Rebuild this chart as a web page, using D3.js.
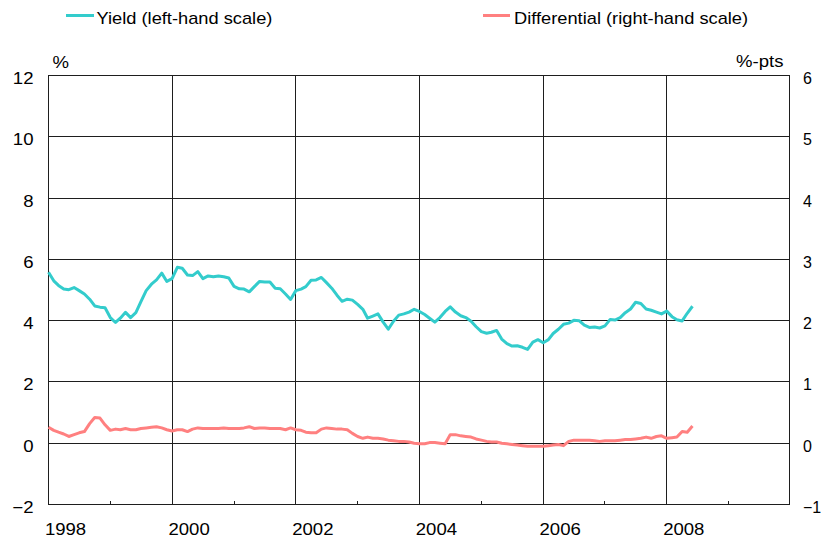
<!DOCTYPE html>
<html>
<head>
<meta charset="utf-8">
<script src="https://cdn.jsdelivr.net/npm/d3@7"></script>
<style>
  html, body { margin: 0; padding: 0; background: #fff; }
  svg { display: block; }
  text { font-family: "Liberation Sans", Arial, sans-serif; font-size: 16px; fill: #000; }
</style>
</head>
<body>
<svg id="chart" width="821" height="550"></svg>
<script>
// ---------------- data ----------------
const startYear = 1998;            // monthly observations from January 1998
const yearLabels = [1998, 2000, 2002, 2004, 2006, 2008];
const minorYears = [1999, 2001, 2003, 2005, 2007, 2009];
const leftTicks = [12, 10, 8, 6, 4, 2, 0, -2];
const rightTicks = [6, 5, 4, 3, 2, 1, 0, -1];
const seriesNames = ["Yield (left-hand scale)", "Differential (right-hand scale)"];
const leftUnit = "%";
const rightUnit = "%-pts";

const yieldValues = [
  5.58,5.30,5.15,5.03,5.01,5.08,4.98,4.87,4.70,4.48,
  4.44,4.42,4.10,3.94,4.08,4.27,4.10,4.26,4.62,4.98,
  5.19,5.33,5.55,5.28,5.37,5.74,5.71,5.49,5.47,5.60,
  5.37,5.46,5.43,5.46,5.43,5.39,5.12,5.04,5.03,4.94,
  5.11,5.28,5.26,5.26,5.06,5.04,4.87,4.69,4.98,5.03,
  5.11,5.32,5.33,5.41,5.24,5.06,4.83,4.63,4.70,4.67,
  4.53,4.37,4.08,4.15,4.22,3.95,3.72,3.98,4.18,4.22,
  4.28,4.37,4.30,4.20,4.08,3.95,4.10,4.30,4.45,4.28,
  4.16,4.10,3.98,3.80,3.64,3.59,3.62,3.68,3.40,3.25,
  3.17,3.18,3.13,3.06,3.30,3.38,3.28,3.38,3.58,3.72,
  3.88,3.92,4.01,4.00,3.85,3.78,3.79,3.76,3.83,4.04,
  4.02,4.10,4.26,4.38,4.60,4.56,4.38,4.34,4.28,4.22,
  4.31,4.13,4.03,3.99,4.24,4.47
];

const differentialValues = [
  0.26,0.21,0.18,0.15,0.11,0.14,0.17,0.19,0.32,0.42,
  0.41,0.30,0.21,0.23,0.22,0.24,0.22,0.22,0.24,0.25,
  0.26,0.27,0.25,0.22,0.20,0.22,0.22,0.19,0.23,0.25,
  0.24,0.24,0.24,0.24,0.25,0.24,0.24,0.24,0.25,0.27,
  0.24,0.25,0.25,0.24,0.24,0.24,0.22,0.25,0.22,0.21,
  0.18,0.17,0.17,0.23,0.25,0.24,0.23,0.23,0.22,0.16,
  0.11,0.08,0.10,0.08,0.08,0.07,0.05,0.04,0.03,0.03,
  0.02,0.00,-0.01,-0.01,0.01,0.01,0.00,-0.01,0.14,0.14,
  0.12,0.11,0.10,0.07,0.05,0.03,0.02,0.02,0.00,-0.01,
  -0.02,-0.03,-0.04,-0.05,-0.05,-0.05,-0.05,-0.04,-0.03,-0.02,
  -0.04,0.03,0.05,0.05,0.05,0.05,0.04,0.03,0.04,0.04,
  0.04,0.05,0.06,0.06,0.07,0.08,0.10,0.08,0.11,0.12,
  0.08,0.09,0.10,0.19,0.18,0.28
];

// ---------------- layout ----------------
const colors = ["#33CCCC", "#FF8080"];
const L = 48.5, R = 789.5, T = 75.5, B = 504.5;
const SX = 1.16; // horizontal text stretch of the reference

const svg = d3.select("#chart");
const x = d3.scaleTime()
  .domain([new Date(startYear, 0, 1), new Date(2010, 0, 1)])
  .range([L, 790.5]);
const yL = d3.scaleLinear().domain([-2, 12]).range([B, T]);
const yR = d3.scaleLinear().domain([-1, 6]).range([B, T]);

const dates = yieldValues.map((_, i) => new Date(startYear, i, 1));

// grid
const grid = svg.append("g").attr("shape-rendering", "crispEdges")
  .attr("stroke", "#1e1e1e").attr("stroke-width", 1);
grid.selectAll("line.h").data(leftTicks).join("line").attr("class", "h")
  .attr("x1", L).attr("x2", R)
  .attr("y1", d => Math.round(yL(d) - 0.5) + 0.5)
  .attr("y2", d => Math.round(yL(d) - 0.5) + 0.5);
grid.selectAll("line.v").data(yearLabels.slice(1)).join("line").attr("class", "v")
  .attr("x1", d => Math.round(x(new Date(d, 0, 1)) - 0.5) + 0.5)
  .attr("x2", d => Math.round(x(new Date(d, 0, 1)) - 0.5) + 0.5)
  .attr("y1", T).attr("y2", B);
grid.append("rect").attr("x", L).attr("y", T).attr("width", R - L).attr("height", B - T)
  .attr("fill", "none");
grid.selectAll("line.m").data(minorYears).join("line").attr("class", "m")
  .attr("x1", d => Math.round(x(new Date(d, 0, 1)) - 0.5) + 0.5)
  .attr("x2", d => Math.round(x(new Date(d, 0, 1)) - 0.5) + 0.5)
  .attr("y1", B).attr("y2", B - 4);

// axes (labels only; grid draws the lines)
function stretch(sel, dx, dy, anchor, sx) {
  sel.attr("x", 0).attr("y", 0).attr("dy", null)
    .attr("text-anchor", anchor)
    .attr("transform", `translate(${dx},${dy}) scale(${sx},1)`);
}
const axL = svg.append("g").attr("transform", `translate(${L},0)`)
  .call(d3.axisLeft(yL).tickValues(leftTicks).tickSize(0).tickFormat(d3.format("d")));
axL.select(".domain").remove();
axL.selectAll("text").call(stretch, -15, 8, "end", SX);

const axR = svg.append("g").attr("transform", `translate(${R},0)`)
  .call(d3.axisRight(yR).tickValues(rightTicks).tickSize(0).tickFormat(d3.format("d")));
axR.select(".domain").remove();
axR.selectAll("text").call(stretch, 13.5, 8, "start", 1.0);

const axB = svg.append("g").attr("transform", `translate(0,${B})`)
  .call(d3.axisBottom(x).tickValues(yearLabels.map(y => new Date(y, 0, 1)))
    .tickSize(0).tickFormat(d3.timeFormat("%Y")));
axB.select(".domain").remove();
axB.selectAll("text").call(stretch, 16.5, 30, "middle", SX);
svg.selectAll(".tick text").attr("font-size", 16).attr("font-family", '"Liberation Sans", Arial, sans-serif').attr("fill", "#000");

// unit labels
svg.append("text").attr("transform", `translate(52.5,68) scale(${SX},1)`).text(leftUnit);
svg.append("text").attr("text-anchor", "end")
  .attr("transform", `translate(783.5,66.5) scale(${SX},1)`).text(rightUnit);

// lines
const lineL = d3.line().x((d, i) => x(dates[i])).y(d => yL(d));
const lineR = d3.line().x((d, i) => x(dates[i])).y(d => yR(d));
svg.append("path").datum(differentialValues).attr("d", lineR)
  .attr("fill", "none").attr("stroke", colors[1]).attr("stroke-width", 3)
  .attr("stroke-linejoin", "round");
svg.append("path").datum(yieldValues).attr("d", lineL)
  .attr("fill", "none").attr("stroke", colors[0]).attr("stroke-width", 3)
  .attr("stroke-linejoin", "round");

// legend
const legend = [
  { x1: 66, x2: 94, tx: 96.5 },
  { x1: 483, x2: 510, tx: 514 }
];
legend.forEach((l, i) => {
  svg.append("line").attr("x1", l.x1).attr("x2", l.x2).attr("y1", 15.5).attr("y2", 15.5)
    .attr("stroke", colors[i]).attr("stroke-width", 3);
  svg.append("text").attr("transform", `translate(${l.tx},23.5) scale(${SX * 0.985},1)`)
    .text(seriesNames[i]);
});
</script>
</body>
</html>
